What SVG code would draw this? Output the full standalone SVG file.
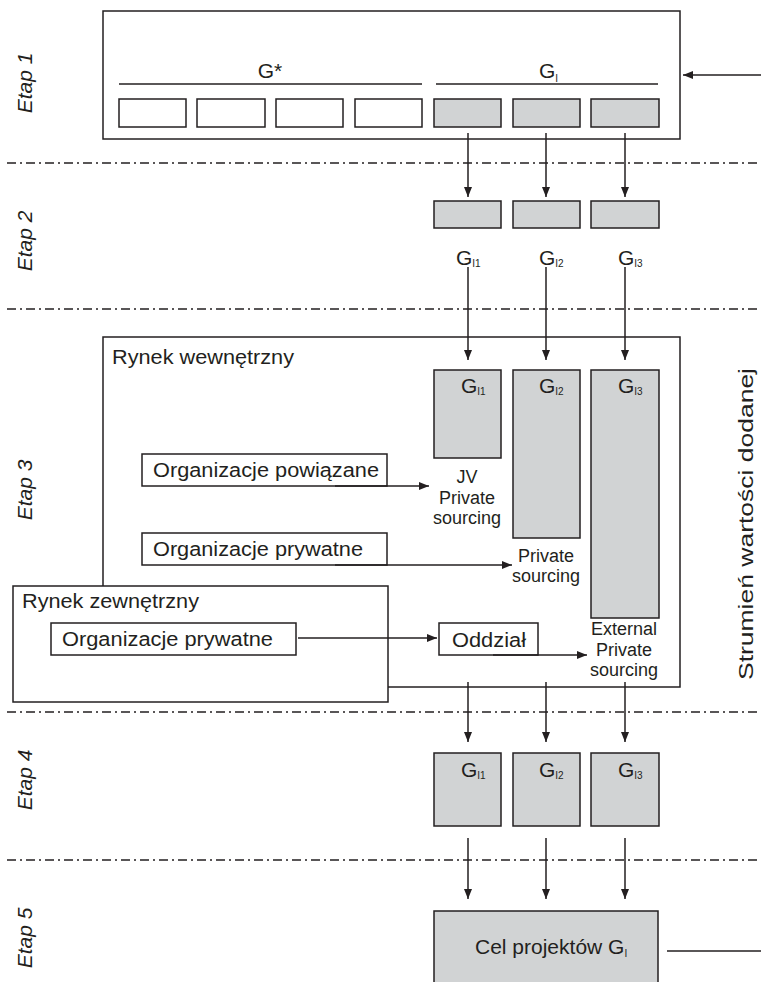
<svg xmlns="http://www.w3.org/2000/svg" width="761" height="982" viewBox="0 0 761 982">
<defs>
<marker id="ah" viewBox="0 0 10 8" refX="10" refY="4" markerWidth="10" markerHeight="8" markerUnits="userSpaceOnUse" orient="auto">
<path d="M0,0 L10,4 L0,8 z" fill="#231f20"/>
</marker>
<style>
.box{fill:#fff;stroke:#231f20;stroke-width:1.5}
.gray{fill:#d1d3d4;stroke:#231f20;stroke-width:1.5}
.ln{stroke:#231f20;stroke-width:1.5;fill:none}
.arr{stroke:#231f20;stroke-width:1.5;fill:none;marker-end:url(#ah)}
.sep{stroke:#231f20;stroke-width:1.5;stroke-dasharray:9 4 2 4;fill:none}
text{font-family:"Liberation Sans",Arial,sans-serif;fill:#231f20;font-size:20px}
.et{font-style:italic;text-anchor:middle;font-size:21px}
.g{font-size:21px}
.sm{font-size:18px;text-anchor:middle}
.sub{font-size:10px}
</style>
</defs>
<rect width="761" height="982" fill="#fff"/>

<g id="separators">
<line class="sep" x1="7" y1="163" x2="761" y2="163"/>
<line class="sep" x1="7" y1="309" x2="761" y2="309"/>
<line class="sep" x1="7" y1="712" x2="761" y2="712"/>
<line class="sep" x1="7" y1="860" x2="761" y2="860"/>
</g>

<g id="stage-labels">
<text class="et" transform="translate(32,83) rotate(-90)">Etap 1</text>
<text class="et" transform="translate(32,241) rotate(-90)">Etap 2</text>
<text class="et" transform="translate(32,490) rotate(-90)">Etap 3</text>
<text class="et" transform="translate(32,780) rotate(-90)">Etap 4</text>
<text class="et" transform="translate(32,938) rotate(-90)">Etap 5</text>
<text transform="translate(753,524) rotate(-90)" text-anchor="middle" font-size="23" textLength="312" lengthAdjust="spacingAndGlyphs">Strumień wartości dodanej</text>
</g>

<g id="etap1">
<rect class="box" x="103" y="11" width="577" height="128"/>
<line class="ln" x1="119" y1="84" x2="422" y2="84"/>
<line class="ln" x1="436" y1="84" x2="658" y2="84"/>
<text class="g" x="270" y="78" text-anchor="middle">G*</text>
<text class="g" x="539" y="78">G<tspan class="sub" dy="4">I</tspan></text>
<rect class="box" x="119" y="99" width="67" height="28"/>
<rect class="box" x="197" y="99" width="68" height="28"/>
<rect class="box" x="276" y="99" width="67" height="28"/>
<rect class="box" x="355" y="99" width="67" height="28"/>
<rect class="gray" x="434" y="99" width="67" height="28"/>
<rect class="gray" x="513" y="99" width="67" height="28"/>
<rect class="gray" x="591" y="99" width="68" height="28"/>
</g>

<g id="etap2">
<rect class="gray" x="434" y="201" width="67" height="27"/>
<rect class="gray" x="513" y="201" width="67" height="27"/>
<rect class="gray" x="591" y="201" width="68" height="27"/>
<text class="g" x="456" y="265">G<tspan class="sub" dy="2">I1</tspan></text>
<text class="g" x="539" y="265">G<tspan class="sub" dy="2">I2</tspan></text>
<text class="g" x="618" y="265">G<tspan class="sub" dy="2">I3</tspan></text>
</g>

<g id="rynek-wewnetrzny">
<rect class="box" x="103" y="337" width="577" height="350"/>
<text x="112" y="364" textLength="182" lengthAdjust="spacingAndGlyphs">Rynek wewnętrzny</text>
</g>

<g id="etap3-g">
<rect class="gray" x="434" y="370" width="67" height="88"/>
<rect class="gray" x="513" y="370" width="67" height="168"/>
<rect class="gray" x="591" y="370" width="68" height="248"/>
<text class="g" x="461" y="393">G<tspan class="sub" dy="2">I1</tspan></text>
<text class="g" x="539" y="393">G<tspan class="sub" dy="2">I2</tspan></text>
<text class="g" x="618" y="393">G<tspan class="sub" dy="2">I3</tspan></text>
<text class="sm" x="467" y="483">JV</text>
<text class="sm" x="467" y="504">Private</text>
<text class="sm" x="467" y="524">sourcing</text>
<text class="sm" x="546" y="562">Private</text>
<text class="sm" x="546" y="582">sourcing</text>
<text class="sm" x="624" y="635">External</text>
<text class="sm" x="624" y="656">Private</text>
<text class="sm" x="624" y="676">sourcing</text>
</g>

<g id="org-powiazane">
<rect class="box" x="142" y="454" width="245" height="32"/>
<text x="153" y="477" textLength="226" lengthAdjust="spacingAndGlyphs">Organizacje powiązane</text>
</g>

<g id="org-prywatne-wew">
<rect class="box" x="142" y="533" width="245" height="32"/>
<text x="153" y="556" textLength="210" lengthAdjust="spacingAndGlyphs">Organizacje prywatne</text>
</g>

<g id="rynek-zewnetrzny">
<rect class="box" x="13" y="586" width="375" height="116"/>
<text x="22" y="608" textLength="177" lengthAdjust="spacingAndGlyphs">Rynek zewnętrzny</text>
</g>

<g id="org-prywatne-zew">
<rect class="box" x="51" y="623" width="245" height="32"/>
<text x="62" y="646" textLength="211" lengthAdjust="spacingAndGlyphs">Organizacje prywatne</text>
</g>

<g id="oddzial">
<rect class="box" x="439" y="623" width="99" height="32"/>
<text x="452" y="647" textLength="74" lengthAdjust="spacingAndGlyphs">Oddział</text>
</g>

<g id="etap4">
<rect class="gray" x="434" y="753" width="67" height="73"/>
<rect class="gray" x="513" y="753" width="67" height="73"/>
<rect class="gray" x="591" y="753" width="68" height="73"/>
<text class="g" x="461" y="777">G<tspan class="sub" dy="2">I1</tspan></text>
<text class="g" x="539" y="777">G<tspan class="sub" dy="2">I2</tspan></text>
<text class="g" x="618" y="777">G<tspan class="sub" dy="2">I3</tspan></text>
</g>

<g id="etap5">
<rect class="gray" x="434" y="911" width="224" height="80"/>
<text class="g" x="475" y="954">Cel projektów G<tspan class="sub" dy="3">I</tspan></text>
</g>

<g id="connectors">
<line class="arr" x1="761" y1="75" x2="683" y2="75"/>
<line class="arr" x1="468" y1="133" x2="468" y2="197"/>
<line class="arr" x1="546" y1="133" x2="546" y2="197"/>
<line class="arr" x1="625" y1="133" x2="625" y2="197"/>
<line class="arr" x1="468" y1="267" x2="468" y2="360"/>
<line class="arr" x1="546" y1="267" x2="546" y2="360"/>
<line class="arr" x1="625" y1="267" x2="625" y2="360"/>
<line class="arr" x1="335" y1="486" x2="429" y2="486"/>
<line class="arr" x1="335" y1="565" x2="512" y2="565"/>
<line class="arr" x1="298" y1="638" x2="437" y2="638"/>
<line class="arr" x1="493" y1="655" x2="587" y2="655"/>
<line class="arr" x1="468" y1="682" x2="468" y2="742"/>
<line class="arr" x1="546" y1="682" x2="546" y2="742"/>
<line class="arr" x1="625" y1="682" x2="625" y2="742"/>
<line class="arr" x1="468" y1="838" x2="468" y2="899"/>
<line class="arr" x1="546" y1="838" x2="546" y2="899"/>
<line class="arr" x1="625" y1="838" x2="625" y2="899"/>
<line class="ln" x1="667" y1="951" x2="761" y2="951"/>
</g>
</svg>
